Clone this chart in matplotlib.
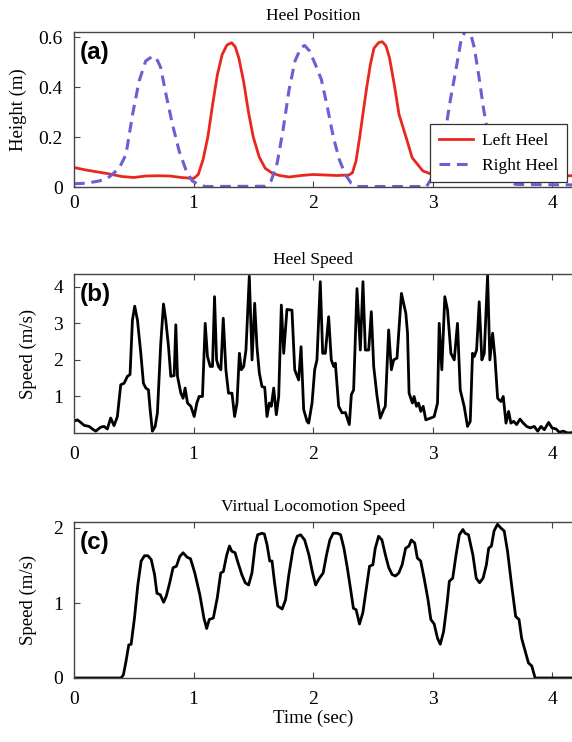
#!/usr/bin/env python3
"""Heel position, heel speed and virtual locomotion speed over one walking trial."""

import matplotlib.pyplot as plt
from matplotlib.lines import Line2D

# ---- panel (a): heel height (m) ----
LEFT_HEEL_T = [
    0.00, 0.10, 0.20, 0.30, 0.40, 0.50, 0.60, 0.70, 0.80, 0.90, 1.00,
    1.04, 1.08, 1.12, 1.16, 1.20, 1.24, 1.28, 1.32, 1.35, 1.38, 1.42, 1.46,
    1.50, 1.55, 1.60, 1.66, 1.72, 1.80, 1.90, 2.00, 2.10, 2.20, 2.30,
    2.33, 2.36, 2.39, 2.42, 2.45, 2.48, 2.51, 2.55, 2.58, 2.61, 2.64, 2.68,
    2.72, 2.78, 2.83, 2.92, 3.00, 3.06, 3.20, 3.60, 4.30,
]
LEFT_HEEL_H = [
    0.078, 0.068, 0.060, 0.052, 0.042, 0.038, 0.044, 0.045, 0.044, 0.038, 0.034,
    0.050, 0.110, 0.200, 0.330, 0.450, 0.530, 0.568, 0.577, 0.560, 0.515, 0.420, 0.300,
    0.200, 0.120, 0.075, 0.055, 0.046, 0.040, 0.046, 0.050, 0.048, 0.046, 0.048,
    0.057, 0.104, 0.197, 0.300, 0.400, 0.490, 0.555, 0.578, 0.581, 0.565, 0.517, 0.410,
    0.290, 0.197, 0.117, 0.064, 0.050, 0.048, 0.045, 0.045, 0.045,
]
RIGHT_HEEL_T = [
    0.00, 0.10, 0.21, 0.28, 0.32, 0.38, 0.435, 0.49, 0.545, 0.60, 0.66, 0.70,
    0.726, 0.77, 0.824, 0.88, 0.94, 0.99, 1.05, 1.10, 1.60,
    1.65, 1.70, 1.75, 1.80, 1.85, 1.90, 1.93, 1.97, 2.02, 2.07, 2.12, 2.17,
    2.22, 2.27, 2.32, 2.37, 2.95,
    3.00, 3.05, 3.10, 3.15, 3.20, 3.24, 3.28, 3.31, 3.35, 3.39, 3.43, 3.47,
    3.52, 3.57, 3.62, 3.70, 4.30,
]
RIGHT_HEEL_H = [
    0.013, 0.015, 0.024, 0.035, 0.050, 0.077, 0.130, 0.290, 0.424, 0.504, 0.524, 0.505,
    0.477, 0.370, 0.250, 0.144, 0.064, 0.024, 0.008, 0.002, 0.003,
    0.025, 0.095, 0.230, 0.390, 0.505, 0.558, 0.566, 0.545, 0.490, 0.430, 0.320, 0.200,
    0.110, 0.050, 0.015, 0.002, 0.002,
    0.040, 0.085, 0.200, 0.350, 0.480, 0.590, 0.630, 0.630, 0.557, 0.437, 0.304, 0.200,
    0.120, 0.060, 0.025, 0.010, 0.008,
]

# ---- panel (b): heel speed (m/s) ----
HEEL_SPEED_T = [
    0.000, 0.028, 0.056, 0.084, 0.126, 0.154, 0.182, 0.223, 0.251, 0.279, 0.307,
    0.335, 0.363, 0.391, 0.419, 0.447, 0.469, 0.489, 0.508, 0.531, 0.559, 0.581,
    0.601, 0.623, 0.637, 0.656, 0.679, 0.698, 0.726, 0.749, 0.768, 0.791, 0.810,
    0.838, 0.852, 0.866, 0.894, 0.913, 0.930, 0.950, 0.978, 1.006, 1.028, 1.047,
    1.075, 1.098, 1.117, 1.140, 1.159, 1.176, 1.193, 1.209, 1.229, 1.249, 1.271,
    1.293, 1.322, 1.344, 1.364, 1.384, 1.400, 1.420, 1.439, 1.467, 1.490, 1.512,
    1.531, 1.551, 1.573, 1.596, 1.615, 1.635, 1.651, 1.671, 1.693, 1.713, 1.735,
    1.755, 1.782, 1.824, 1.847, 1.880, 1.900, 1.922, 1.950, 1.964, 1.992, 2.014,
    2.033, 2.061, 2.081, 2.103, 2.131, 2.153, 2.173, 2.187, 2.215, 2.243, 2.271,
    2.304, 2.321, 2.340, 2.368, 2.396, 2.418, 2.438, 2.466, 2.488, 2.508, 2.536,
    2.563, 2.591, 2.605, 2.633, 2.656, 2.675, 2.703, 2.740, 2.777, 2.791, 2.804,
    2.832, 2.846, 2.866, 2.883, 2.902, 2.922, 2.944, 2.986, 3.014, 3.042, 3.056,
    3.078, 3.103, 3.126, 3.154, 3.182, 3.209, 3.232, 3.265, 3.293, 3.316, 3.335,
    3.349, 3.369, 3.391, 3.413, 3.433, 3.461, 3.480, 3.503, 3.522, 3.545, 3.573,
    3.592, 3.615, 3.637, 3.656, 3.679, 3.704, 3.732, 3.760, 3.788, 3.818, 3.852,
    3.880, 3.908, 3.936, 3.972, 4.000, 4.034, 4.061, 4.095, 4.131, 4.201, 4.300,
]
HEEL_SPEED_V = [
    0.32, 0.36, 0.29, 0.21, 0.18, 0.11, 0.05, 0.16, 0.18, 0.11, 0.41,
    0.20, 0.45, 1.32, 1.36, 1.55, 1.60, 3.09, 3.47, 3.09, 2.18, 1.36,
    1.23, 1.18, 0.64, 0.05, 0.18, 0.55, 2.45, 3.53, 3.09, 2.36, 1.55,
    1.57, 2.96, 1.55, 1.09, 0.95, 1.23, 0.82, 0.73, 0.45, 0.82, 1.00,
    1.00, 3.00, 2.09, 1.82, 1.82, 3.73, 2.00, 1.82, 1.73, 3.14, 1.73,
    1.09, 1.09, 0.45, 0.82, 2.18, 1.73, 1.82, 2.27, 4.29, 2.00, 3.55,
    2.36, 1.64, 1.27, 1.25, 0.45, 0.82, 0.73, 1.23, 0.50, 1.00, 3.50,
    2.18, 3.38, 3.36, 1.73, 1.45, 2.36, 0.64, 0.32, 0.27, 0.82, 1.73,
    2.00, 4.14, 2.18, 2.18, 3.18, 2.00, 1.82, 1.91, 0.73, 0.55, 0.56,
    0.23, 1.05, 1.18, 3.95, 2.27, 4.14, 2.27, 2.27, 3.32, 1.82, 1.00,
    0.41, 0.64, 0.73, 2.82, 1.73, 2.00, 2.05, 3.82, 3.27, 2.73, 1.09,
    0.82, 1.00, 0.73, 0.82, 0.59, 0.73, 0.36, 0.41, 0.45, 0.82, 3.00,
    1.73, 3.73, 3.36, 2.18, 2.00, 3.00, 1.18, 0.73, 0.18, 0.32, 2.18,
    2.09, 2.27, 3.59, 2.00, 2.18, 4.32, 2.00, 2.73, 2.09, 0.95, 0.86,
    1.00, 0.27, 0.59, 0.27, 0.32, 0.23, 0.38, 0.27, 0.18, 0.14, 0.18,
    0.05, 0.18, 0.09, 0.29, 0.14, 0.11, 0.02, 0.05, 0.00, 0.02, 0.02,
]

# ---- panel (c): virtual locomotion speed (m/s) ----
LOCO_SPEED_T = [
    0.000, 0.393, 0.413, 0.435, 0.458, 0.478, 0.506, 0.534, 0.562, 0.590, 0.618,
    0.646, 0.674, 0.694, 0.722, 0.750, 0.772, 0.801, 0.829, 0.857, 0.885, 0.913,
    0.947, 0.975, 1.011, 1.053, 1.087, 1.110, 1.132, 1.166, 1.199, 1.228, 1.250,
    1.278, 1.301, 1.320, 1.348, 1.368, 1.404, 1.433, 1.461, 1.489, 1.517, 1.537,
    1.573, 1.593, 1.615, 1.638, 1.657, 1.677, 1.705, 1.742, 1.770, 1.798, 1.834,
    1.868, 1.896, 1.930, 1.966, 1.994, 2.022, 2.053, 2.085, 2.113, 2.141, 2.169,
    2.203, 2.231, 2.259, 2.287, 2.315, 2.338, 2.361, 2.389, 2.417, 2.445, 2.473,
    2.501, 2.521, 2.549, 2.577, 2.606, 2.634, 2.662, 2.690, 2.718, 2.746, 2.775,
    2.803, 2.823, 2.851, 2.873, 2.901, 2.930, 2.963, 2.986, 3.014, 3.042, 3.065,
    3.093, 3.121, 3.141, 3.169, 3.197, 3.225, 3.254, 3.273, 3.301, 3.338, 3.366,
    3.394, 3.423, 3.451, 3.470, 3.493, 3.515, 3.544, 3.572, 3.600, 3.628, 3.662,
    3.696, 3.724, 3.746, 3.775, 3.803, 3.831, 3.859, 4.300,
]
LOCO_SPEED_V = [
    0.00, 0.00, 0.04, 0.22, 0.44, 0.45, 0.80, 1.24, 1.56, 1.63, 1.63,
    1.58, 1.38, 1.13, 1.11, 1.01, 1.09, 1.27, 1.47, 1.49, 1.62, 1.67,
    1.61, 1.59, 1.40, 1.11, 0.80, 0.66, 0.78, 0.80, 1.07, 1.40, 1.42,
    1.64, 1.76, 1.69, 1.67, 1.56, 1.38, 1.27, 1.24, 1.40, 1.78, 1.91,
    1.93, 1.92, 1.78, 1.56, 1.56, 1.29, 0.96, 0.92, 1.04, 1.38, 1.73,
    1.89, 1.91, 1.84, 1.64, 1.42, 1.24, 1.33, 1.40, 1.64, 1.84, 1.93,
    1.93, 1.91, 1.73, 1.47, 1.18, 0.93, 0.91, 0.72, 0.87, 1.18, 1.49,
    1.51, 1.73, 1.89, 1.84, 1.64, 1.47, 1.38, 1.36, 1.40, 1.51, 1.73,
    1.76, 1.84, 1.80, 1.60, 1.56, 1.33, 1.04, 0.78, 0.72, 0.53, 0.45,
    0.62, 0.98, 1.29, 1.33, 1.64, 1.91, 1.98, 1.93, 1.91, 1.64, 1.33,
    1.27, 1.33, 1.51, 1.73, 1.76, 1.96, 2.05, 2.00, 1.96, 1.69, 1.24,
    0.82, 0.78, 0.53, 0.36, 0.20, 0.16, 0.00, 0.00,
]

X_TICKS = [0, 1, 2, 3, 4]
HEIGHT_TICKS = [0, 0.2, 0.4, 0.6]
HEIGHT_TICK_LABELS = ["0", "0.2", "0.4", "0.6"]
HEEL_SPEED_TICKS = [1, 2, 3, 4]
LOCO_SPEED_TICKS = [0, 1, 2]

SERIF = "Liberation Serif"
FIG_W, FIG_H = 572, 742
X_MAX = 4.3
PX_PER_SEC = 119.5
AX_LEFT_PX = 74


def fig_box(top_px, bottom_px):
    width_px = X_MAX * PX_PER_SEC
    return [
        AX_LEFT_PX / FIG_W,
        1 - bottom_px / FIG_H,
        width_px / FIG_W,
        (bottom_px - top_px) / FIG_H,
    ]


def style_axes(ax, title, title_gap, ylabel, ylabel_x, letter, xpad):
    ax.set_xlim(0, X_MAX)
    ax.set_xticks(X_TICKS)
    ax.set_xticklabels([str(t) for t in X_TICKS])
    ax.tick_params(
        direction="in", top=True, right=True, length=4, width=0.8,
        color="#444444", labelsize=14,
    )
    ax.tick_params(axis="x", pad=xpad)
    ax.tick_params(axis="y", pad=8)
    for label in ax.get_xticklabels() + ax.get_yticklabels():
        label.set_fontfamily(SERIF)
    for spine in ax.spines.values():
        spine.set_color("#444444")
        spine.set_linewidth(1.0)
    ax.annotate(
        title, xy=(2, 1), xycoords=("data", "axes fraction"),
        xytext=(0, title_gap), textcoords="offset points",
        ha="center", va="center", fontsize=12.5, family=SERIF,
    )
    ax.set_ylabel(ylabel, fontsize=13.5, family=SERIF, va="center")
    ax.yaxis.set_label_coords(ylabel_x, 0.5)
    ax.text(
        0.012, 0.87, letter, transform=ax.transAxes, fontsize=17.5,
        fontweight="bold", family="Liberation Sans", va="center", ha="left",
    )


def main():
    fig = plt.figure(figsize=(FIG_W / 100, FIG_H / 100), dpi=100)
    ax_w_px = X_MAX * PX_PER_SEC

    # (a) heel position
    ax_a = fig.add_axes(fig_box(32, 187))
    ax_a.plot(LEFT_HEEL_T, LEFT_HEEL_H, color="#E8281E", linewidth=2.0)
    ax_a.plot(RIGHT_HEEL_T, RIGHT_HEEL_H, color="#6A5FD3", linewidth=2.2,
              linestyle=(0, (3.5, 2.2)))
    ax_a.set_ylim(0, 0.62)
    ax_a.set_yticks(HEIGHT_TICKS)
    ax_a.set_yticklabels(HEIGHT_TICK_LABELS)
    style_axes(ax_a, "Heel Position", 11.5, "Height (m)",
               (18 - AX_LEFT_PX) / ax_w_px, "(a)", 5.5)
    handles = [
        Line2D([], [], color="#E8281E", linewidth=2.0),
        Line2D([], [], color="#6A5FD3", linewidth=2.2, linestyle=(0, (3.5, 2.2))),
    ]
    legend = ax_a.legend(
        handles, ["Left Heel", "Right Heel"],
        loc="upper left", bbox_to_anchor=(430 / FIG_W, 1 - 124 / FIG_H),
        bbox_transform=fig.transFigure, fancybox=False, framealpha=1,
        edgecolor="#333333", prop={"family": SERIF, "size": 12.5},
        handlelength=2.0, handletextpad=0.5, borderpad=0.5, labelspacing=0.5,
        borderaxespad=0,
    )
    legend.get_frame().set_linewidth(0.9)

    # (b) heel speed
    ax_b = fig.add_axes(fig_box(274, 433))
    ax_b.plot(HEEL_SPEED_T, HEEL_SPEED_V, color="black", linewidth=2.0)
    ax_b.set_ylim(0, 4.35)
    ax_b.set_yticks(HEEL_SPEED_TICKS)
    style_axes(ax_b, "Heel Speed", 10, "Speed (m/s)",
               (28 - AX_LEFT_PX) / ax_w_px, "(b)", 9.5)

    # (c) virtual locomotion speed
    ax_c = fig.add_axes(fig_box(522, 678))
    ax_c.plot(LOCO_SPEED_T, LOCO_SPEED_V, color="black", linewidth=2.0)
    ax_c.set_ylim(0, 2.08)
    ax_c.set_yticks(LOCO_SPEED_TICKS)
    style_axes(ax_c, "Virtual Locomotion Speed", 11, "Speed (m/s)",
               (28 - AX_LEFT_PX) / ax_w_px, "(c)", 9.5)
    ax_c.annotate(
        "Time (sec)", xy=(2, 0), xycoords=("data", "axes fraction"),
        xytext=(0, -29), textcoords="offset points",
        ha="center", va="center", fontsize=13.5, family=SERIF,
    )

    fig.savefig("out.png", dpi=100, facecolor="white")
    plt.close(fig)


if __name__ == "__main__":
    main()
